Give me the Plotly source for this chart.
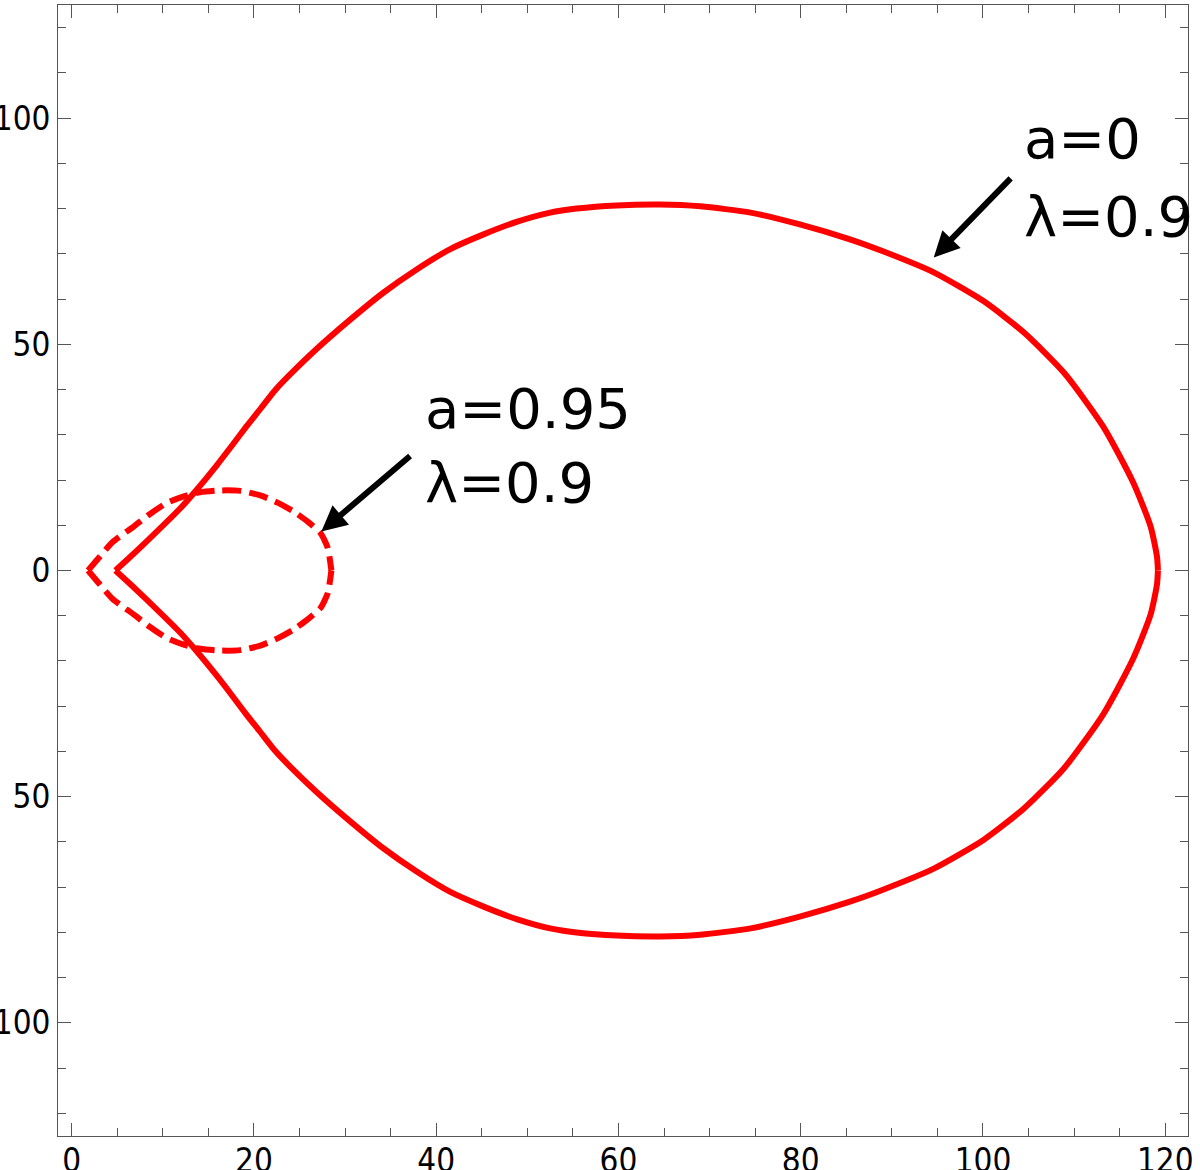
import plotly.graph_objects as go

# a=0, lambda=0.9 (solid line)
solid_x = [4.8, 6.8, 9.7, 11.9, 13.7, 15.9, 17.7, 19.2, 20.7, 22.3, 24.0, 26.9, 30.6, 34.2,
           37.9, 41.5, 45.2, 48.9, 52.5, 55.4, 59.8, 64.6, 69.0, 74.5, 79.9, 85.4, 89.1,
           94.6, 100.1, 104.5, 108.9, 113.2, 116.5, 118.4, 119.1, 119.2]
solid_y_up = [0, 3.7, 9.3, 13.7, 17.8, 23.2, 27.9, 31.9, 35.7, 39.8, 43.4, 49.0, 55.5, 61.4,
              66.6, 71.0, 74.3, 77.1, 79.1, 80.0, 80.7, 80.9, 80.5, 79.1, 76.5, 73.2, 70.5,
              65.9, 59.5, 52.6, 43.7, 31.8, 19.4, 9.7, 3.0, 0]
solid_y_down = [0, -3.7, -9.3, -13.7, -17.8, -23.2, -27.9, -31.9, -35.7, -39.8, -43.4, -49.0,
                -55.5, -61.4, -66.6, -71.0, -74.3, -77.1, -79.1, -80.0, -80.7, -80.9, -80.5,
                -79.1, -76.5, -73.2, -70.5, -65.9, -59.5, -52.6, -43.7, -31.8, -19.4, -9.7,
                -3.0, 0]

# a=0.95, lambda=0.9 (dashed line)
dash_x = [1.8, 3.1, 4.5, 6.8, 8.6, 10.4, 12.3, 14.1, 16.3, 18.5, 20.7, 22.6, 24.3, 25.9,
          27.3, 28.1, 28.5]
dash_y_up = [0, 3.1, 6.3, 9.7, 12.5, 14.9, 16.4, 17.3, 17.7, 17.6, 16.6, 15.0, 13.1, 10.8,
             8.3, 5.0, 0]
dash_y_down = [0, -3.1, -6.3, -9.7, -12.5, -14.9, -16.4, -17.3, -17.7, -17.6, -16.6, -15.0,
               -13.1, -10.8, -8.3, -5.0, 0]

x_ticks = [0, 20, 40, 60, 80, 100, 120]
y_ticks = [-100, -50, 0, 50, 100]
y_tick_text = ["100", "50", "0", "50", "100"]

RED = "#ff0000"
GREY = "#555555"

fig = go.Figure()
for ys in (solid_y_up, solid_y_down):
    fig.add_trace(go.Scatter(
        x=solid_x, y=ys, mode="lines",
        line=dict(color=RED, width=6, shape="spline", smoothing=0.6)
    ))
for ys in (dash_y_up, dash_y_down):
    fig.add_trace(go.Scatter(
        x=dash_x, y=ys, mode="lines",
        line=dict(color=RED, width=6, shape="spline", smoothing=0.6, dash="19px,8px")
    ))

label_font = dict(family="DejaVu Sans", size=56, color="black")
labels = [
    ("a=0", 104.3, 95.5), ("λ=0.9", 104.3, 78.3),
    ("a=0.95", 38.6, 35.9), ("λ=0.9", 38.6, 19.5),
]
for txt, lx, ly in labels:
    fig.add_annotation(x=lx, y=ly, text=txt, showarrow=False, xanchor="left",
                       yanchor="middle", font=label_font)

# arrows: (tip x, tip y, tail x, tail y)
arrows = [(94.6, 69.2, 103.2, 87.0), (27.4, 8.6, 37.3, 25.6)]
for tx, ty, sx, sy in arrows:
    fig.add_annotation(x=tx, y=ty, ax=sx, ay=sy, axref="x", ayref="y", text="",
                       showarrow=True, arrowhead=2, arrowsize=0.85, arrowwidth=6,
                       arrowcolor="black", standoff=0)

tick_font = dict(family="DejaVu Sans Condensed, DejaVu Sans", size=33, color="black")
axis_common = dict(
    showline=True, mirror="ticks", linecolor=GREY, linewidth=1,
    ticks="inside", ticklen=13, tickcolor=GREY, tickwidth=1,
    showgrid=False, zeroline=False, tickfont=tick_font, automargin=False,
)
fig.update_xaxes(range=[-1.5, 122.5], tickvals=x_ticks, ticklabelstandoff=-5,
                 minor=dict(dtick=5, tick0=0, ticks="inside", ticklen=8,
                            tickcolor=GREY, tickwidth=1, showgrid=False),
                 **axis_common)
fig.update_yaxes(range=[-125, 125], tickvals=y_ticks, ticktext=y_tick_text,
                 minor=dict(dtick=10, tick0=0, ticks="inside", ticklen=8,
                            tickcolor=GREY, tickwidth=1, showgrid=False),
                 **axis_common)

fig.update_layout(
    width=1200, height=1170, showlegend=False,
    plot_bgcolor="white", paper_bgcolor="white",
    margin=dict(l=58, r=12, t=5, b=34),
)
# drop the browser's default page margin so the figure sits at the window corner
fig.write_html("out.html", config={"displayModeBar": False},
               post_script="document.body.style.margin = '0px';")
